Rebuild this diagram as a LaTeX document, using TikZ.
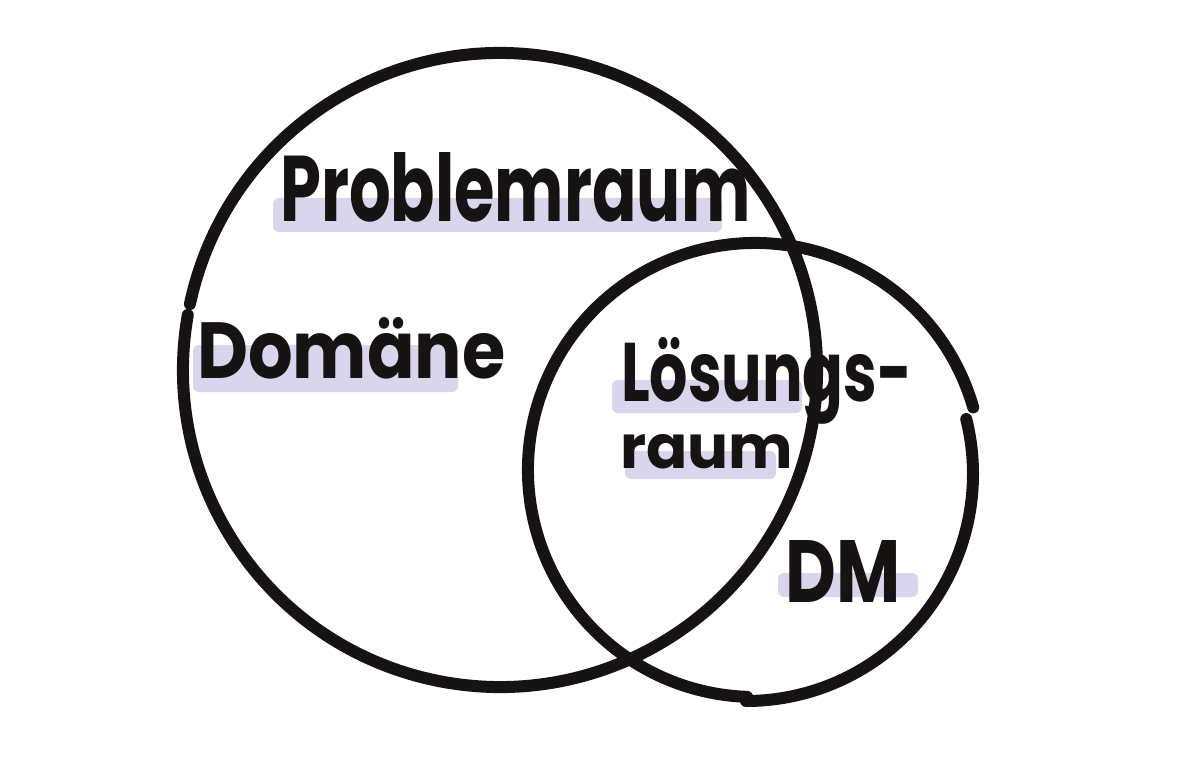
\documentclass[tikz,border=0pt]{standalone}
\usepackage{fontspec}
\usepackage{graphicx}
\newfontfamily\hand{Poppins}
\definecolor{ink}{RGB}{22,19,18}
\definecolor{marker}{RGB}{210,206,234}
\tikzset{
  pen/.style={draw=ink, line width=12, line cap=round},
  highlight/.style={fill=marker, rounded corners=6, opacity=0.85},
  word/.style={anchor=base west, inner sep=0, text=ink, font=\hand\bfseries}
}
\begin{document}
\begin{tikzpicture}[x=1pt, y=1pt]
  % canvas: origin at the top left, y running downward as negative values
  \useasboundingbox (0,0) rectangle (1200,-770);
  \fill[white] (0,0) rectangle (1200,-770);

  % marker highlights behind the labels
  \fill[highlight] (273,-198) rectangle (722,-232);
  \fill[highlight] (193,-345) rectangle (458,-392);
  \fill[highlight] (612,-380) rectangle (802,-413);
  \fill[highlight] (625,-451) rectangle (776,-479);
  \fill[highlight] (778,-573) rectangle (918,-597);

  % large circle: problem space, one stroke whose end overshoots its start a little
  \draw[pen] (500,-370) ++(168:317) arc[start angle=168, end angle=-190, radius=317];

  % small circle: solution space, drawn in two strokes
  \draw[pen] (755,-470) ++(16:227) arc[start angle=16, end angle=268, radius=227];
  \draw[pen] (746,-474) ++(-90:227) arc[start angle=-90, end angle=14, radius=227];

  % labels
  \node[word] (problem) at (280,-222) {\resizebox{470pt}{69pt}{Problemraum}};
  \node[word] (domain)  at (197,-378) {\resizebox{308pt}{61pt}{Domäne}};
  \node[word] (sol1)    at (621,-401) {\resizebox{291pt}{64pt}{Lösungs-}};
  \node[word] (sol2)    at (620,-468) {\resizebox{173pt}{34pt}{raum}};
  \node[word] (dm)      at (785,-602) {\resizebox{115pt}{62pt}{DM}};
\end{tikzpicture}
\end{document}
